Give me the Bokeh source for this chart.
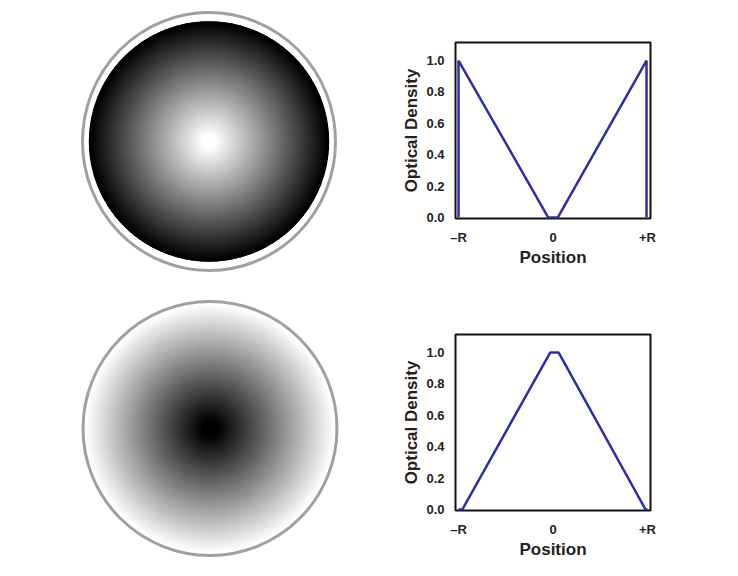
import numpy as np
from bokeh.plotting import figure
from bokeh.layouts import row, column
from bokeh.models import Range1d, FixedTicker, LinearColorMapper
from bokeh.palettes import Greys256
from bokeh.embed import file_html
from bokeh.resources import INLINE

# ---- data ----
pos_ticks = [-1, 0, 1]
pos_labels = ["\u2013R", "0", "+R"]
od_ticks = [0.0, 0.2, 0.4, 0.6, 0.8, 1.0]
od_labels = ["0.0", "0.2", "0.4", "0.6", "0.8", "1.0"]

# top profile (V shape): density low at centre, high at rim
top_x = [-1.0, -1.0, -0.05, 0.05, 0.99, 0.99]
top_y = [0.0, 1.0, 0.0, 0.0, 1.0, 0.0]
# bottom profile (triangle): density high at centre, low at rim
bot_x = [-1.0, -0.96, -0.03, 0.06, 0.98, 1.0]
bot_y = [0.0, 0.0, 1.0, 1.0, 0.0, 0.0]

LINE_COLOR = "#2e2ea8"
FONT = "Liberation Sans"


def disk_image(px, py, n=720):
    """Radial density image built from the positive half of a profile."""
    xs = np.array(px, dtype=float)
    ys = np.array(py, dtype=float)
    mask = xs >= 0
    rx = np.abs(xs[mask])
    ry = ys[mask]
    order = np.argsort(rx, kind="stable")
    rx, ry = rx[order], ry[order]
    g = np.linspace(-1, 1, n)
    X, Y = np.meshgrid(g, g)
    R = np.sqrt(X ** 2 + Y ** 2)
    D = np.interp(R, rx, ry)
    D[R > 1.0] = np.nan
    return D


# ---- left: the two disks (pixel-like data coordinates) ----
left = figure(width=368, height=576, x_range=Range1d(0, 368), y_range=Range1d(0, 576),
              output_backend="svg", toolbar_location=None, min_border=0)
left.axis.visible = False
left.grid.visible = False
left.outline_line_color = None

cmap = LinearColorMapper(palette=list(Greys256[::-1]), low=0, high=1, nan_color="rgba(0,0,0,0)")

# top disk: V profile -> white centre, dark rim
top_img = disk_image([0.0, 0.05, 0.99, 1.0], [0.0, 0.0, 1.0, 1.0])
tcx, tcy = 208.5, 576 - 141
left.image(image=[top_img], x=tcx - 120, y=tcy - 120, dw=240, dh=240, color_mapper=cmap)
left.ellipse(x=[tcx], y=[tcy], width=[239], height=[239], fill_color=None,
             line_color="black", line_width=1.5)
left.ellipse(x=[tcx], y=[tcy], width=[253], height=[258], fill_color=None,
             line_color="#a0a0a0", line_width=3)

# bottom disk: triangle profile -> dark centre, white rim
bot_img = disk_image([0.0, 0.06, 0.98, 1.0], [1.0, 1.0, 0.0, 0.0])
bcx, bcy = 209.5, 576 - 428
left.image(image=[bot_img], x=bcx - 127, y=bcy - 127, dw=254, dh=254, color_mapper=cmap)
left.ellipse(x=[bcx], y=[bcy], width=[254], height=[254], fill_color=None,
             line_color="#a0a0a0", line_width=3)


def profile_fig(xs, ys, top, bottom):
    p = figure(frame_width=195, frame_height=176,
               min_border_left=87, min_border_right=20,
               min_border_top=top, min_border_bottom=bottom,
               x_range=Range1d(-1.032, 1.032), y_range=Range1d(-0.006, 1.115),
               output_backend="svg", toolbar_location=None)
    p.grid.visible = False
    p.outline_line_color = "#111111"
    p.outline_line_width = 2
    p.line(xs, ys, line_color=LINE_COLOR, line_width=2.5)

    p.xaxis.ticker = FixedTicker(ticks=pos_ticks)
    p.xaxis.major_label_overrides = {t: l for t, l in zip(pos_ticks, pos_labels)}
    p.yaxis.ticker = FixedTicker(ticks=od_ticks)
    p.yaxis.major_label_overrides = {t: l for t, l in zip(od_ticks, od_labels)}
    p.xaxis.axis_label = "Position"
    p.yaxis.axis_label = "Optical Density"
    for ax in (p.xaxis, p.yaxis):
        ax.axis_line_color = None
        ax.major_tick_line_color = None
        ax.minor_tick_line_color = None
        ax.major_label_text_font = FONT
        ax.major_label_text_font_style = "bold"
        ax.major_label_text_font_size = "13px"
        ax.major_label_text_color = "#222222"
        ax.axis_label_text_font = FONT
        ax.axis_label_text_font_style = "bold"
        ax.axis_label_text_font_size = "17px"
        ax.axis_label_text_color = "#222222"
    p.xaxis.major_label_standoff = 5
    p.yaxis.major_label_standoff = 5
    p.xaxis.axis_label_standoff = 0
    p.yaxis.axis_label_standoff = 2
    return p


p_top = profile_fig(top_x, top_y, 42, 70)
p_bot = profile_fig(bot_x, bot_y, 46, 58)

layout = row(left, column(p_top, p_bot))
open("out.html", "w").write(file_html(layout, INLINE))
